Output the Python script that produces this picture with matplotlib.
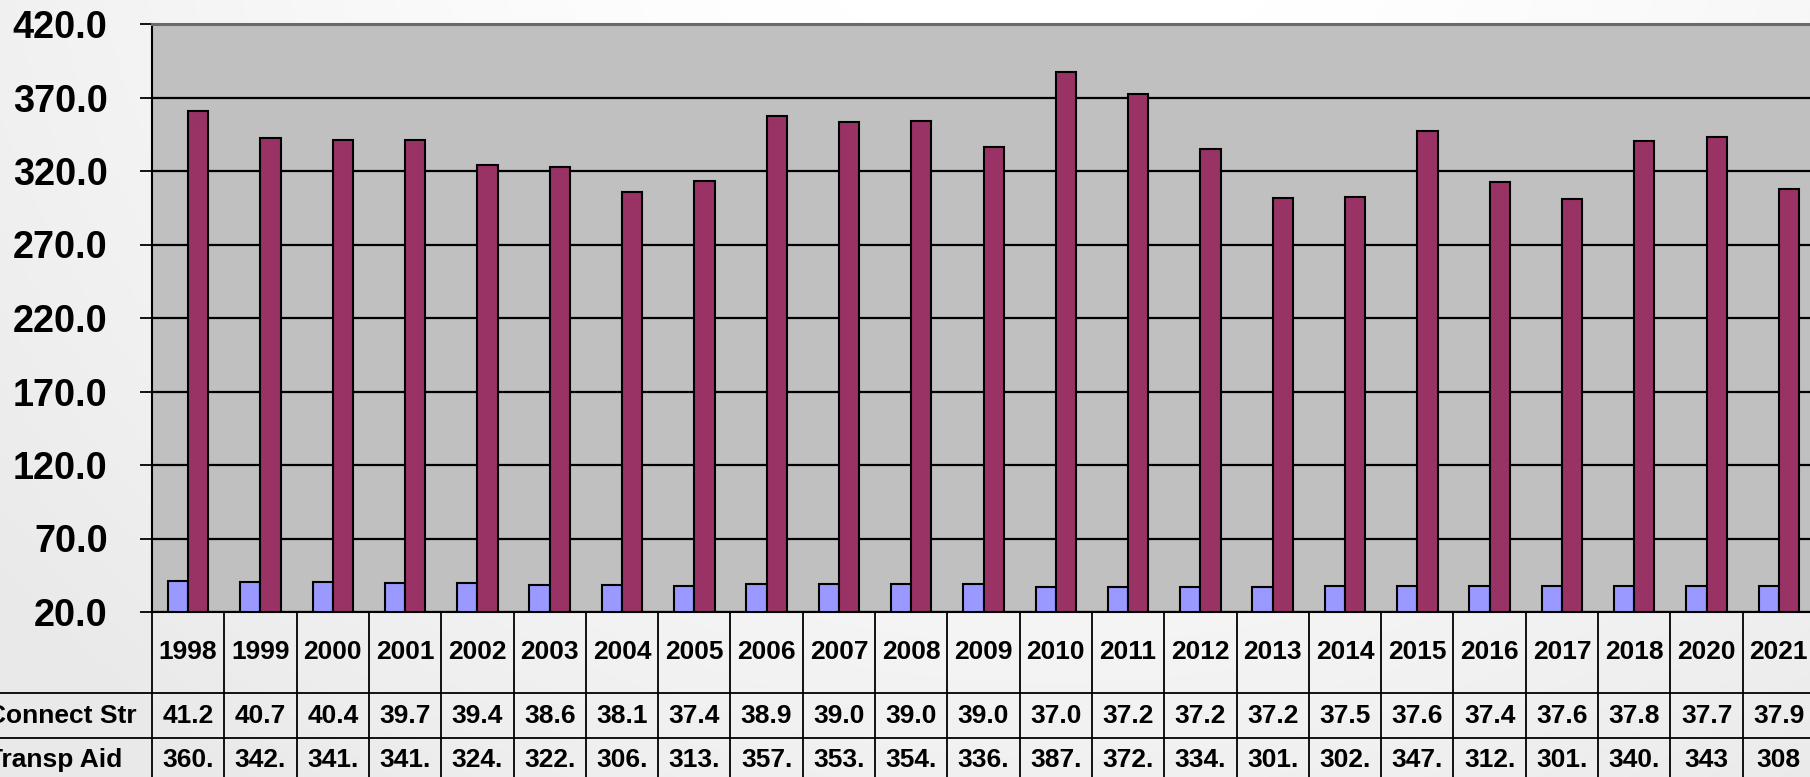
import numpy as np
import matplotlib
matplotlib.use("Agg")
import matplotlib.pyplot as plt
from matplotlib.transforms import blended_transform_factory

# ---------------- data ----------------
years = ["1998", "1999", "2000", "2001", "2002", "2003", "2004", "2005", "2006",
         "2007", "2008", "2009", "2010", "2011", "2012", "2013", "2014", "2015",
         "2016", "2017", "2018", "2020", "2021"]
connect_str = [41.2, 40.7, 40.4, 39.7, 39.4, 38.6, 38.1, 37.4, 38.9, 39.0, 39.0, 39.0,
               37.0, 37.2, 37.2, 37.2, 37.5, 37.6, 37.4, 37.6, 37.8, 37.7, 37.9]
transp_aid = [360.8, 342.5, 341.3, 341.2, 324.4, 322.6, 306.0, 313.4, 357.2, 353.1,
              354.0, 336.4, 387.2, 372.4, 334.8, 301.3, 302.0, 347.5, 312.2, 300.8,
              340.6, 343.0, 308.0]
connect_labels = ["41.2", "40.7", "40.4", "39.7", "39.4", "38.6", "38.1", "37.4", "38.9",
                  "39.0", "39.0", "39.0", "37.0", "37.2", "37.2", "37.2", "37.5", "37.6",
                  "37.4", "37.6", "37.8", "37.7", "37.9"]
transp_labels = ["360.", "342.", "341.", "341.", "324.", "322.", "306.", "313.", "357.",
                 "353.", "354.", "336.", "387.", "372.", "334.", "301.", "302.", "347.",
                 "312.", "301.", "340.", "343", "308"]
row_names = ["Connect Str", "Transp Aid"]
yticks = [20, 70, 120, 170, 220, 270, 320, 370, 420]

# ---------------- figure ----------------
W, H = 1810, 777
DPI = 100
plt.rcParams['font.family'] = ['Liberation Sans', 'DejaVu Sans']
plt.rcParams['font.weight'] = 'bold'
fig = plt.figure(figsize=(W / DPI, H / DPI), dpi=DPI)
fig.patch.set_facecolor("white")

# background gradient
bg = fig.add_axes([0, 0, 1, 1], zorder=-10)
yy, xx = np.mgrid[0:H, 0:W]
r = np.sqrt(((xx - 1050) / 1100.0) ** 2 + ((yy + 150) / 950.0) ** 2)
g = 255 - 22 * np.clip(r - 0.25, 0, 1) ** 1.3
img = np.dstack([g, g, g]).astype(np.uint8)
bg.imshow(img, aspect="auto", extent=[0, 1, 0, 1], origin="upper")
bg.set_axis_off()

# main axes (extends slightly past right edge, like the cropped original)
x0, x1 = 152, 1815
ytop, ybot = 24, 612
ax = fig.add_axes([x0 / W, 1 - ybot / H, (x1 - x0) / W, (ybot - ytop) / H], zorder=1)
ax.set_facecolor("#c0c0c0")

n = len(years)
x = np.arange(n)
bw = 0.28
ax.bar(x - bw / 2, [v - 20 for v in connect_str], bw, bottom=20, color="#9999ff",
       edgecolor="black", linewidth=1.5, zorder=3)
ax.bar(x + bw / 2, [v - 20 for v in transp_aid], bw, bottom=20, color="#993366",
       edgecolor="black", linewidth=1.5, zorder=3)

ax.set_xlim(-0.5, n - 0.5)
ax.set_ylim(20, 420)
ax.set_yticks(yticks)
ax.set_yticklabels([f"{t:.1f}" for t in yticks])
ax.set_xticks([])
ax.yaxis.grid(True, color="black", linewidth=1.6, zorder=0)
ax.set_axisbelow(True)
ax.tick_params(axis="y", direction="out", length=9, width=1.3, pad=23,
               labelsize=27.3, colors="black")
for lab in ax.get_yticklabels():
    lab.set_fontweight("bold")
ax.spines["left"].set_color("black")
ax.spines["left"].set_linewidth(1.5)
ax.spines["bottom"].set_color("black")
ax.spines["bottom"].set_linewidth(1.5)
ax.spines["top"].set_color("#6a6a6a")
ax.spines["top"].set_linewidth(2.2)
ax.spines["right"].set_visible(False)

# ---------------- data table ----------------
tr = blended_transform_factory(ax.transData, fig.transFigure)
row_y = [612, 693, 738, 777]
fy = lambda p: 1 - p / H
lw_tab = 1.3

# vertical separators
for k in range(n + 1):
    ax.plot([k - 0.5, k - 0.5], [fy(612), fy(H + 5)], transform=tr, color="black",
            linewidth=lw_tab, clip_on=False, zorder=5)
# horizontal separators
for yp in row_y[1:3]:
    fig.add_artist(plt.Line2D([0, 1], [fy(yp), fy(yp)], transform=fig.transFigure,
                              color="black", linewidth=lw_tab, zorder=5))

fs = 19
for i in range(n):
    ax.text(i, fy(652), years[i], transform=tr, ha="center", va="center",
            fontsize=fs, fontweight="bold", clip_on=False)
    ax.text(i, fy(716), connect_labels[i], transform=tr, ha="center", va="center",
            fontsize=fs, fontweight="bold", clip_on=False)
    ax.text(i, fy(760), transp_labels[i], transform=tr, ha="center", va="center",
            fontsize=fs, fontweight="bold", clip_on=False)

fig.text(137 / W, fy(716), row_names[0], ha="right", va="center", fontsize=fs,
         fontweight="bold")
fig.text(122 / W, fy(760), row_names[1], ha="right", va="center", fontsize=fs,
         fontweight="bold")

fig.savefig("out.png", dpi=DPI)
